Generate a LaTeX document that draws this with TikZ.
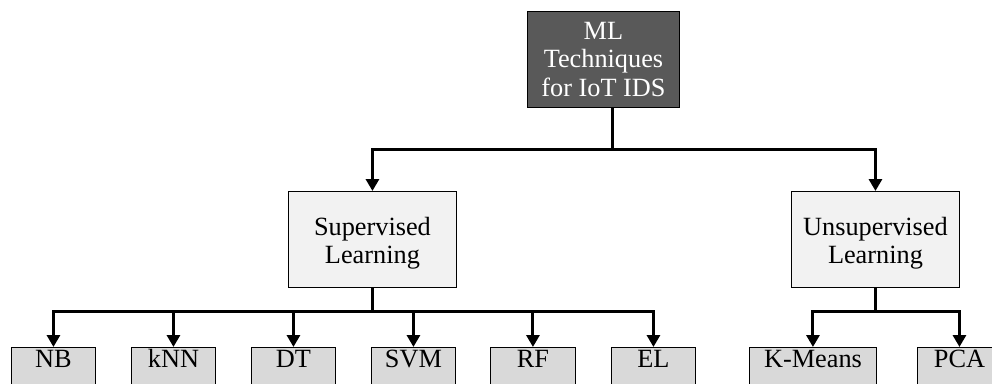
\documentclass[tikz,border=0pt]{standalone}
\usepackage{fontspec}
\setmainfont{Liberation Serif}
\usetikzlibrary{arrows.meta,calc}
\definecolor{rootfill}{HTML}{595959}
\definecolor{midfill}{HTML}{F2F2F2}
\definecolor{leaffill}{HTML}{D9D9D9}
\tikzset{
  box/.style={draw=black,line width=0.9pt,rectangle,inner sep=0pt,anchor=north west},
  rootbox/.style={box,fill=rootfill},
  midbox/.style={box,fill=midfill},
  leafbox/.style={box,fill=leaffill,minimum height=38pt},
  lbl/.style={font=\fontsize{26.3}{28.5}\selectfont,align=center,inner sep=0pt},
  conn/.style={line width=3pt,-{Triangle[width=13pt,length=12pt]}},
}
\begin{document}
\begin{tikzpicture}[x=1pt,y=-1pt]
\useasboundingbox (0,0) rectangle (992,383);
% root
\node[rootbox,minimum width=152pt,minimum height=96pt] (root) at (527,11) {};
\node[lbl,text=white] (roott) at ($(root.center)+(0,0)$) {ML\\Techniques\\for IoT IDS};
% level 2
\node[midbox,minimum width=168pt,minimum height=96pt] (sup) at (288,191) {};
\node[lbl] (supt) at ($(sup.center)+(0,4)$) {Supervised\\Learning};
\node[midbox,minimum width=168pt,minimum height=96pt] (uns) at (791,191) {};
\node[lbl] (unst) at ($(uns.center)+(0,4)$) {Unsupervised\\Learning};
% leaves
\node[leafbox,minimum width=84pt] (nb) at (11,347) {};
\node[leafbox,minimum width=84pt] (knn) at (131,347) {};
\node[leafbox,minimum width=84pt] (dt) at (251,347) {};
\node[leafbox,minimum width=84pt] (svm) at (371,347) {};
\node[leafbox,minimum width=85pt] (rf) at (490,347) {};
\node[leafbox,minimum width=84pt] (el) at (611,347) {};
\node[leafbox,minimum width=127pt] (km) at (749,347) {};
\node[leafbox,minimum width=84pt] (pca) at (917,347) {};
\foreach \n/\t in {nb/NB,knn/kNN,dt/DT,svm/SVM,rf/RF,el/EL,km/K-Means,pca/PCA}{
  \node[lbl,anchor=base] (\n t) at ($(\n.north)+(0,20)$) {\t};
}
% connectors
\draw[conn] ([xshift=9pt]root.south) -- ++(0,42) -| (sup.north);
\draw[conn] ([xshift=9pt]root.south) -- ++(0,42) -| (uns.north);
\foreach \n in {nb,knn,dt,svm,rf,el}{
  \draw[conn] (sup.south) -- ++(0,24) -| (\n.north);
}
\foreach \n in {km,pca}{
  \draw[conn] (uns.south) -- ++(0,24) -| (\n.north);
}
\end{tikzpicture}
\end{document}
